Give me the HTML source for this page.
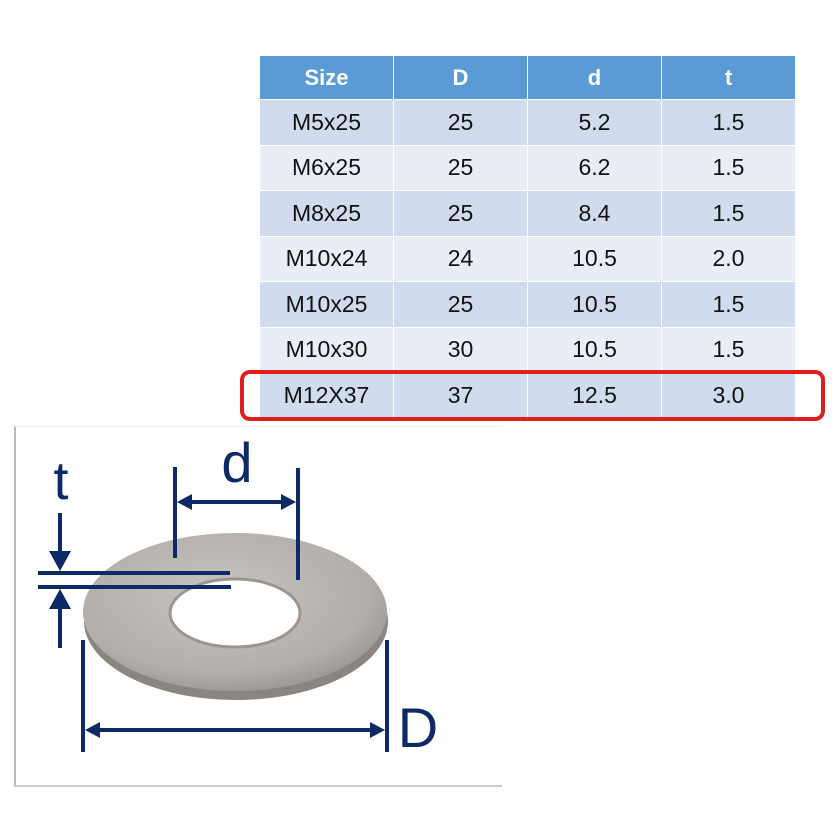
<!DOCTYPE html>
<html><head><style>
body{margin:0;width:833px;height:833px;background:#fff;position:relative;overflow:hidden;font-family:"Liberation Sans",Calibri,sans-serif}
table{position:absolute;left:259px;top:55px;border-collapse:collapse;border:1px solid #6a7f9c}
td{width:133px;height:44.5px;text-align:center;font-size:23px;color:#111;border:1.5px solid #fff;padding:0}
tr:nth-child(even) td{background:#d0dcee}
tr:nth-child(odd) td{background:#e9edf5}
table tr.h td{background:#5b9bd5;color:#fff;font-weight:bold;font-size:22px;height:43px}
.red{position:absolute;left:240px;top:370px;width:577px;height:43px;border:4px solid #e01e1e;border-radius:10px}
.box{position:absolute;left:14px;top:426px;width:486px;height:358px;border-left:2px solid #bbb;border-bottom:2px solid #ccc;border-top:1px solid #eee}
</style></head><body>
<table>
<tr class="h"><td>Size</td><td>D</td><td>d</td><td>t</td></tr>
<tr><td>M5x25</td><td>25</td><td>5.2</td><td>1.5</td></tr>
<tr><td>M6x25</td><td>25</td><td>6.2</td><td>1.5</td></tr>
<tr><td>M8x25</td><td>25</td><td>8.4</td><td>1.5</td></tr>
<tr><td>M10x24</td><td>24</td><td>10.5</td><td>2.0</td></tr>
<tr><td>M10x25</td><td>25</td><td>10.5</td><td>1.5</td></tr>
<tr><td>M10x30</td><td>30</td><td>10.5</td><td>1.5</td></tr>
<tr><td>M12X37</td><td>37</td><td>12.5</td><td>3.0</td></tr>
</table>
<div class="red"></div>
<div class="box"></div>
<svg width="833" height="833" style="position:absolute;left:0;top:0">
<defs>
<radialGradient id="g" cx="0.45" cy="0.4" r="0.7"><stop offset="0" stop-color="#c8c3bf"/><stop offset="0.7" stop-color="#b3aeaa"/><stop offset="1" stop-color="#8e8985"/></radialGradient>
</defs>
<ellipse cx="236" cy="621" rx="152" ry="79" fill="#8a8580"/>
<ellipse cx="235" cy="612" rx="152" ry="79" fill="url(#g)"/>
<ellipse cx="235" cy="613" rx="65" ry="34" fill="#fff" stroke="#9a9591" stroke-width="3"/>
<g stroke="#0d2a66" stroke-width="4" fill="none">
<line x1="175" y1="467" x2="175" y2="558"/><line x1="298" y1="468" x2="298" y2="580"/>
<line x1="185" y1="502" x2="288" y2="502"/>
<line x1="60" y1="513" x2="60" y2="560"/><line x1="60" y1="600" x2="60" y2="648"/>
<line x1="38" y1="573" x2="230" y2="573"/><line x1="38" y1="587" x2="231" y2="587"/>
<line x1="83" y1="640" x2="83" y2="752"/><line x1="387" y1="640" x2="387" y2="752"/>
<line x1="95" y1="730" x2="375" y2="730"/>
</g>
<g fill="#0d2a66">
<polygon points="177,502 192,494 192,510"/><polygon points="296,502 281,494 281,510"/>
<polygon points="49,551 71,551 60,571"/><polygon points="49,609 71,609 60,589"/>
<polygon points="85,730 100,722 100,738"/><polygon points="385,730 370,722 370,738"/>
<text x="237" y="482" font-size="56" text-anchor="middle" font-family="Liberation Sans,sans-serif">d</text>
<text x="61" y="499" font-size="54" text-anchor="middle" font-family="Liberation Sans,sans-serif">t</text>
<text x="418" y="747" font-size="56" text-anchor="middle" font-family="Liberation Sans,sans-serif">D</text>
</g>
</svg>
</body></html>
